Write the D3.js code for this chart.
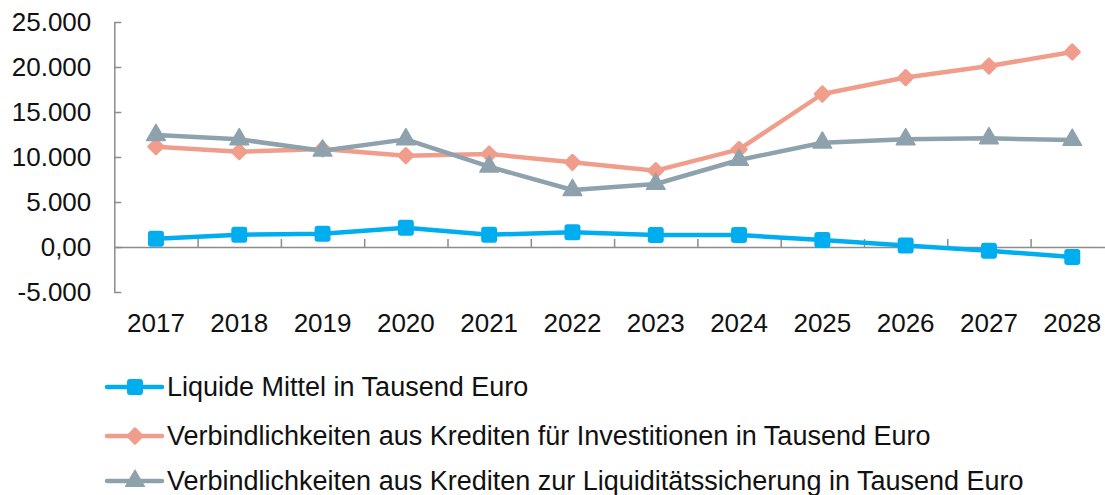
<!DOCTYPE html>
<html><head><meta charset="utf-8">
<script src="https://cdn.jsdelivr.net/npm/d3@7"></script>
<style>
html,body{margin:0;padding:0;background:#fff;}
svg{display:block;font-family:"Liberation Sans",Arial,sans-serif;}
</style></head>
<body>
<svg id="chart" width="1105" height="495"></svg>
<script>
const years = ["2017","2018","2019","2020","2021","2022","2023","2024","2025","2026","2027","2028"];
const liquide = [920, 1370, 1480, 2150, 1370, 1630, 1330, 1330, 780, 170, -410, -1110];
const investitionen = [11150, 10590, 10890, 10150, 10330, 9410, 8480, 10850, 17000, 18830, 20110, 21670];
const liquiditaet = [12440, 11960, 10700, 11960, 8920, 6330, 7000, 9670, 11590, 11960, 12070, 11890];
const yTicks = [-5000, 0, 5000, 10000, 15000, 20000, 25000];
const seriesNames = [
  "Liquide Mittel in Tausend Euro",
  "Verbindlichkeiten aus Krediten für Investitionen in Tausend Euro",
  "Verbindlichkeiten aus Krediten zur Liquiditätssicherung in Tausend Euro"
];
const seriesColors = ["#00AEEF", "#F09D8C", "#8EA2AE"];
const seriesMarkers = ["square", "diamond", "triangle"];

const series = [liquide, investitionen, liquiditaet].map((vals, i) => ({
  name: seriesNames[i], color: seriesColors[i], marker: seriesMarkers[i],
  values: vals.map((v, j) => ({year: years[j], value: v}))
}));

const svg = d3.select("#chart");
const x0 = 114.3, band = 83.3;
const x = d3.scaleBand().domain(years).range([x0, x0 + band * years.length]);
const y = d3.scaleLinear().domain([-5000, 25000]).range([292, 22]);

const de = d3.formatLocale({decimal: ",", thousands: ".", grouping: [3], currency: ["", "€"], minus: "-"});
const fmt = v => v === 0 ? "0,00" : de.format(",.0f")(v);

const axisColor = "#8C8C8C";

// Y axis
const yAxis = svg.append("g").attr("transform", `translate(${x0},0)`)
  .call(d3.axisLeft(y).tickValues(yTicks).tickSizeInner(-7).tickSizeOuter(0).tickPadding(23).tickFormat(fmt));
yAxis.select(".domain").attr("stroke", axisColor).attr("stroke-width", 1.5);
yAxis.selectAll(".tick line").attr("stroke", axisColor).attr("stroke-width", 1.5);
yAxis.selectAll(".tick text").attr("font-size", 26).attr("fill", "#111").attr("font-family", "Liberation Sans, Arial, sans-serif");

// X axis line at zero with category boundary ticks
const xb = d3.scaleLinear().domain([0, years.length]).range([x0, x0 + band * years.length]);
const xAxis = svg.append("g").attr("transform", `translate(0,${y(0)})`)
  .call(d3.axisBottom(xb).tickValues(d3.range(1, years.length + 1)).tickSizeInner(-8).tickSizeOuter(0).tickFormat(""));
xAxis.select(".domain").attr("stroke", axisColor).attr("stroke-width", 1.5);
xAxis.selectAll(".tick line").attr("stroke", axisColor).attr("stroke-width", 1.5);

// Year labels
svg.append("g").selectAll("text").data(years).join("text")
  .attr("x", d => x(d) + x.bandwidth() / 2)
  .attr("y", 323)
  .attr("text-anchor", "middle").attr("dominant-baseline", "central")
  .attr("font-size", 26).attr("fill", "#111")
  .text(d => d);

const line = d3.line().x(d => x(d.year) + x.bandwidth() / 2).y(d => y(d.value));

function drawMarker(g, type, color, cx, cy) {
  if (type === "square") {
    g.append("rect").attr("x", cx - 8).attr("y", cy - 8).attr("width", 16).attr("height", 16)
      .attr("rx", 3).attr("fill", color);
  } else if (type === "diamond") {
    g.append("rect").attr("x", -6.5).attr("y", -6.5).attr("width", 13).attr("height", 13).attr("rx", 1.5)
      .attr("transform", `translate(${cx},${cy}) rotate(45)`).attr("fill", color);
  } else {
    g.append("path").attr("d", d3.symbol(d3.symbolTriangle, 150)())
      .attr("transform", `translate(${cx},${cy})`).attr("fill", color)
      .attr("stroke", color).attr("stroke-width", 1.5).attr("stroke-linejoin", "round");
  }
}

series.forEach(s => {
  const g = svg.append("g");
  g.append("path").datum(s.values).attr("d", line)
    .attr("fill", "none").attr("stroke", s.color).attr("stroke-width", 4.5)
    .attr("stroke-linejoin", "round").attr("stroke-linecap", "round");
  s.values.forEach(d => drawMarker(g, s.marker, s.color, x(d.year) + x.bandwidth() / 2, y(d.value)));
});

// Legend
const legendY = [387, 436, 481];
series.forEach((s, i) => {
  const g = svg.append("g");
  const ly = legendY[i];
  g.append("line").attr("x1", 107).attr("x2", 162).attr("y1", ly).attr("y2", ly)
    .attr("stroke", s.color).attr("stroke-width", 4.5).attr("stroke-linecap", "round");
  drawMarker(g, s.marker, s.color, 135, ly);
  g.append("text").attr("x", 167).attr("y", ly).attr("dominant-baseline", "central")
    .attr("font-size", 27).attr("fill", "#111").text(s.name);
});
</script>
</body></html>
